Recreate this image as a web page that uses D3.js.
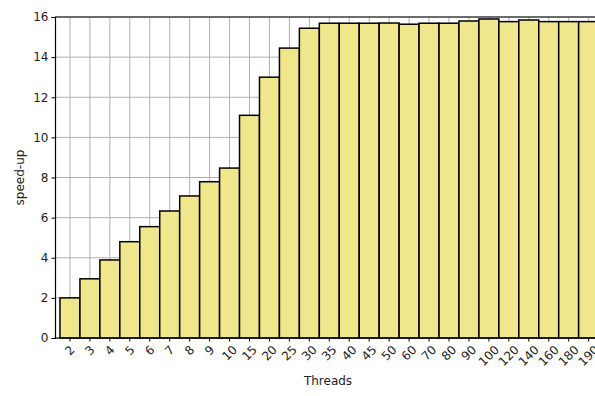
<!DOCTYPE html>
<html>
<head>
<meta charset="utf-8">
<script src="https://cdn.jsdelivr.net/npm/d3@7"></script>
<style>
  html, body { margin: 0; padding: 0; background: #fff; overflow: hidden; }
  svg { display: block; font-family: "DejaVu Sans", sans-serif; }
</style>
</head>
<body>
<script>
// Thread counts tested and measured speed-up for each
const threads = ["2","3","4","5","6","7","8","9","10","15","20","25","30","35","40","45","50","60","70","80","90","100","120","140","160","180","190"];
const speedup = [2.0,2.95,3.89,4.8,5.55,6.33,7.08,7.79,8.47,11.1,13.0,14.45,15.44,15.69,15.69,15.69,15.7,15.64,15.69,15.69,15.8,15.9,15.77,15.85,15.77,15.77,15.77];
const yTicks = [0,2,4,6,8,10,12,14,16];

const W = 595, H = 396;
const plotLeft = 55, plotTop = 17, plotBottom = 338;
const fontSize = 12;

const svg = d3.select("body").append("svg").attr("width", W).attr("height", H);

const x = d3.scaleBand().domain(threads).range([plotLeft, 603.6]).paddingInner(0).paddingOuter(0.25);
const y = d3.scaleLinear().domain([0, 16]).range([plotBottom, plotTop]);

// grid
const grid = svg.append("g").attr("stroke", "#b0b0b0").attr("stroke-width", 1);
grid.selectAll("line.h").data(yTicks).join("line")
  .attr("x1", plotLeft).attr("x2", W + 20)
  .attr("y1", d => y(d)).attr("y2", d => y(d));
grid.selectAll("line.v").data(threads).join("line")
  .attr("x1", d => x(d) + x.bandwidth() / 2).attr("x2", d => x(d) + x.bandwidth() / 2)
  .attr("y1", plotTop).attr("y2", plotBottom);

// bars
svg.append("g").selectAll("rect").data(threads).join("rect")
  .attr("x", d => x(d))
  .attr("width", x.bandwidth())
  .attr("y", (d, i) => y(speedup[i]))
  .attr("height", (d, i) => y(0) - y(speedup[i]))
  .attr("fill", "#f0e68c")
  .attr("stroke", "#000")
  .attr("stroke-width", 1.5);

// spines
svg.append("line").attr("x1", plotLeft).attr("x2", W + 20).attr("y1", plotTop).attr("y2", plotTop).attr("stroke", "#000").attr("stroke-width", 1.2);
svg.append("line").attr("x1", plotLeft).attr("x2", W + 20).attr("y1", plotBottom).attr("y2", plotBottom).attr("stroke", "#000").attr("stroke-width", 1.2);

// y axis
const yAxis = svg.append("g").attr("transform", `translate(${plotLeft},0)`)
  .call(d3.axisLeft(y).tickValues(yTicks).tickSize(3.5).tickPadding(3).tickFormat(d3.format("d")));
yAxis.select(".domain").attr("stroke-width", 1.2);
yAxis.selectAll("text").attr("font-size", fontSize).attr("font-family", "DejaVu Sans").attr("fill", "#222");

// x axis
const xAxis = svg.append("g").attr("transform", `translate(0,${plotBottom})`)
  .call(d3.axisBottom(x).tickSize(3.5).tickSizeOuter(0));
xAxis.select(".domain").remove();
xAxis.selectAll("text").each(function() {
  const t = d3.select(this);
  t.attr("font-size", fontSize).attr("font-family", "DejaVu Sans").attr("fill", "#222")
   .attr("text-anchor", "middle").attr("dy", null).attr("dominant-baseline", "central");
  const w = this.getComputedTextLength();
  const half = (w + 9) / (2 * Math.SQRT2);
  t.attr("y", null).attr("transform", `translate(0,${3.5 + 3 + half}) rotate(-45)`);
});

// axis titles
svg.append("text").attr("x", 328).attr("y", 385).attr("text-anchor", "middle")
  .attr("font-size", fontSize).attr("fill", "#222").text("Threads");
svg.append("text").attr("transform", `translate(24,${(plotTop + plotBottom) / 2}) rotate(-90)`)
  .attr("text-anchor", "middle").attr("font-size", fontSize).attr("fill", "#222").text("speed-up");
</script>
</body>
</html>
